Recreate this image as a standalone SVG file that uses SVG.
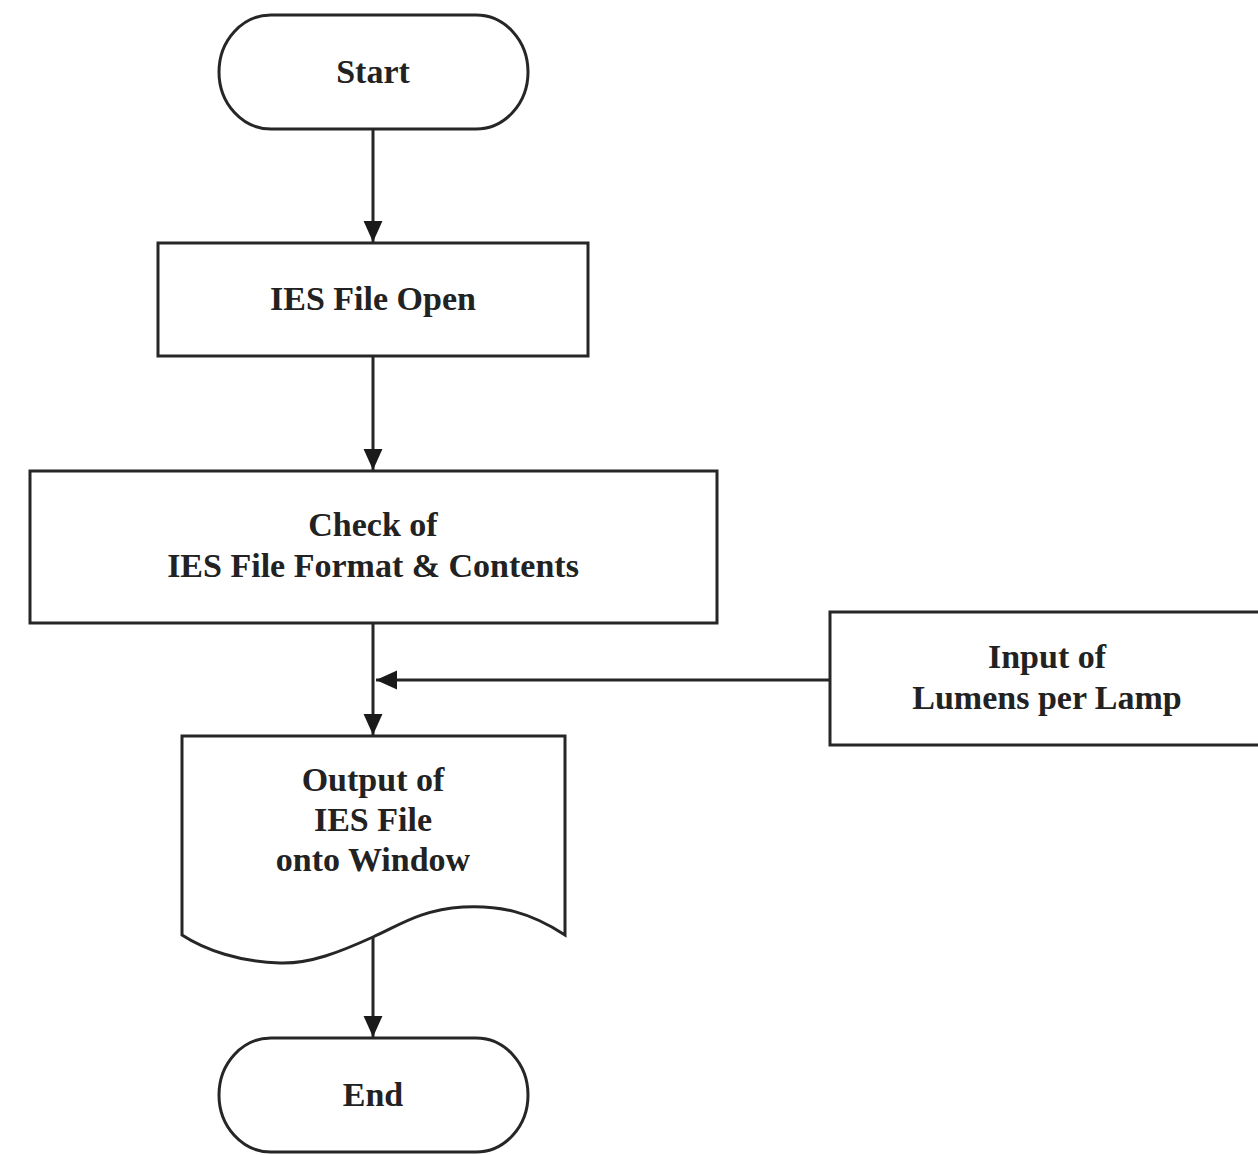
<svg xmlns="http://www.w3.org/2000/svg" width="1258" height="1155" viewBox="0 0 1258 1155">
<style>
.shape{fill:#fff;stroke:#262626;stroke-width:3}
.lbl{font-family:"Liberation Serif","Times New Roman",serif;font-weight:bold;font-size:34px;fill:#222;text-anchor:middle}
.conn{stroke:#262626;stroke-width:3;fill:none}
</style>
<defs>
<marker id="arr" viewBox="0 0 20 20" refX="20" refY="10" markerWidth="21" markerHeight="21" markerUnits="userSpaceOnUse" orient="auto">
<path d="M0,1 L20,10 L0,19 Z" fill="#1a1a1a"/>
</marker>
</defs>
<rect width="1258" height="1155" fill="#fff"/>
<g id="connectors">
<line class="conn" x1="373" y1="129" x2="373" y2="242" marker-end="url(#arr)"/>
<line class="conn" x1="373" y1="356" x2="373" y2="470" marker-end="url(#arr)"/>
<line class="conn" x1="373" y1="623" x2="373" y2="735" marker-end="url(#arr)"/>
<line class="conn" x1="830" y1="680" x2="376" y2="680" marker-end="url(#arr)"/>
<line class="conn" x1="373" y1="937" x2="373" y2="1037" marker-end="url(#arr)"/>
</g>
<g id="start">
<rect class="shape" x="219" y="15" width="309" height="114" rx="52" ry="57"/>
<text class="lbl" x="373" y="83">Start</text>
</g>
<g id="open">
<rect class="shape" x="158" y="243" width="430" height="113"/>
<text class="lbl" x="373" y="310">IES File Open</text>
</g>
<g id="check">
<rect class="shape" x="30" y="471" width="687" height="152"/>
<text class="lbl" x="373" y="536">Check of</text>
<text class="lbl" x="373" y="577">IES File Format &amp; Contents</text>
</g>
<g id="input">
<rect class="shape" x="830" y="612" width="440" height="133"/>
<text class="lbl" x="1047" y="668">Input of</text>
<text class="lbl" x="1047" y="709">Lumens per Lamp</text>
</g>
<g id="output">
<path class="shape" d="M182,736 L565,736 L565,935 C530,912 500,905 463,907 C420,910 400,925 373,937 C340,952 310,964 280,963 C240,962 205,950 182,935 Z"/>
<text class="lbl" x="373" y="791">Output of</text>
<text class="lbl" x="373" y="831">IES File</text>
<text class="lbl" x="373" y="871">onto Window</text>
</g>
<g id="end">
<rect class="shape" x="219" y="1038" width="309" height="114" rx="52" ry="57"/>
<text class="lbl" x="373" y="1106">End</text>
</g>
</svg>
